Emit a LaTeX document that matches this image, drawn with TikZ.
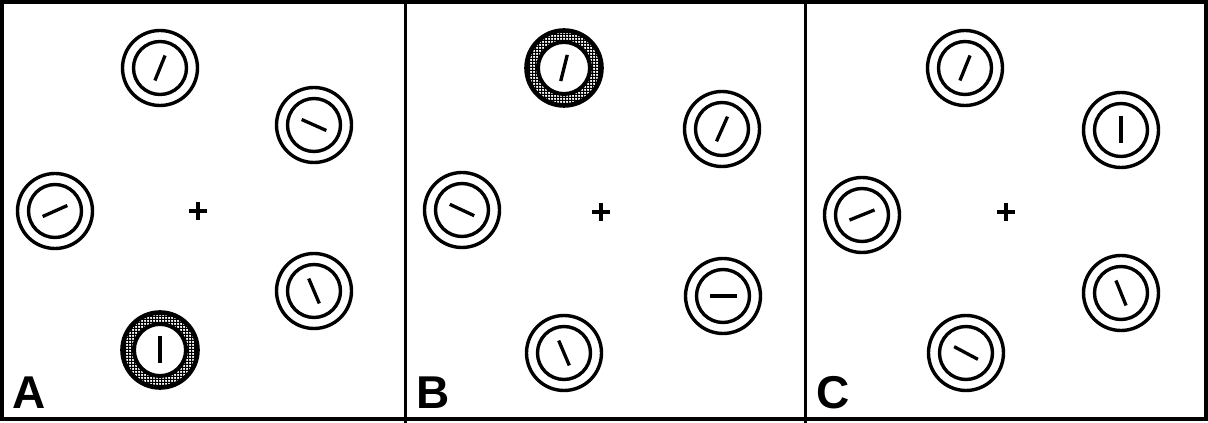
\documentclass[tikz,border=0pt]{standalone}
\usepackage{fontspec}
\setmainfont{Liberation Sans}
\usetikzlibrary{patterns,calc}

% fine black mesh used to fill the highlighted rings
\pgfdeclarepatternformonly{mesh}{\pgfpointorigin}{\pgfpoint{3.4pt}{3.4pt}}{\pgfpoint{3.4pt}{3.4pt}}{%
  \pgfpathrectangle{\pgfpointorigin}{\pgfpoint{3.4pt}{1.2pt}}%
  \pgfpathrectangle{\pgfpointorigin}{\pgfpoint{1.2pt}{3.4pt}}%
  \pgfusepath{fill}%
}

\tikzset{
  frame/.style={line width=4pt},
  divider/.style={line width=3pt},
  ring/.style={line width=3.4pt},
  bar/.style={line width=3.3pt},
  cross/.style={line width=4pt},
  panellabel/.style={font=\bfseries\fontsize{46}{46}\selectfont, inner sep=0pt, anchor=base west},
}

% plain stimulus: double circle with an oriented bar
% #1 name, #2 x, #3 y (from top), #4 bar angle
\newcommand\stimulus[4]{%
  \coordinate (#1) at (#2,{423-#3});
  \draw[ring] (#1) circle (37.5pt) (#1) circle (26.5pt);
  \draw[bar] ($(#1)+(#4:13.5pt)$) -- ($(#1)+(#4+180:13.5pt)$);
}
% highlighted stimulus: ring between the circles filled with a mesh
\newcommand\cuedstimulus[4]{%
  \coordinate (#1) at (#2,{423-#3});
  \fill[pattern=mesh, even odd rule] (#1) circle (37.5pt) (#1) circle (26pt);
  \draw[line width=4.6pt] (#1) circle (37.5pt);
  \draw[line width=4pt] (#1) circle (26pt);
  \draw[bar] ($(#1)+(#4:13.5pt)$) -- ($(#1)+(#4+180:13.5pt)$);
}
\newcommand\fixation[3]{%
  \coordinate (#1) at (#2,{423-#3});
  \draw[cross] ($(#1)+(-9pt,0)$) -- ($(#1)+(9pt,0)$);
  \draw[cross] ($(#1)+(0,-9pt)$) -- ($(#1)+(0,9pt)$);
}

\begin{document}
\begin{tikzpicture}[x=1pt,y=1pt]
  \useasboundingbox (0,0) rectangle (1208,423);
  \fill[white] (0,0) rectangle (1208,423);

  % outer frame and panel dividers
  \draw[frame] (2,4) rectangle (1206,421);
  \coordinate (d1top) at (405,423);
  \coordinate (d1bot) at (405,0);
  \coordinate (d2top) at (805,423);
  \coordinate (d2bot) at (805,0);
  \draw[divider] (d1top) -- (d1bot);
  \draw[divider] (d2top) -- (d2bot);

  % panel A
  \stimulus{aTop}{160}{68}{68}
  \stimulus{aRightTop}{314}{125}{-24}
  \stimulus{aLeft}{55}{211}{24}
  \stimulus{aRightBot}{314}{291}{113}
  \cuedstimulus{aBot}{160}{350}{90}
  \fixation{aFix}{198}{211}
  \node[panellabel] (labA) at (12,14) {A};

  % panel B
  \cuedstimulus{bTop}{564}{68}{76}
  \stimulus{bRightTop}{722}{129}{66}
  \stimulus{bLeft}{462}{210}{-25}
  \stimulus{bRightBot}{723}{296}{0}
  \stimulus{bBot}{564}{353}{113}
  \fixation{bFix}{601}{212}
  \node[panellabel] (labB) at (416,14) {B};

  % panel C
  \stimulus{cTop}{965}{68}{68}
  \stimulus{cRightTop}{1121}{130}{90}
  \stimulus{cLeft}{862}{215}{22}
  \stimulus{cRightBot}{1121}{293}{112}
  \stimulus{cBot}{966}{353}{-28}
  \fixation{cFix}{1006}{212}
  \node[panellabel] (labC) at (816,14) {C};
\end{tikzpicture}
\end{document}
